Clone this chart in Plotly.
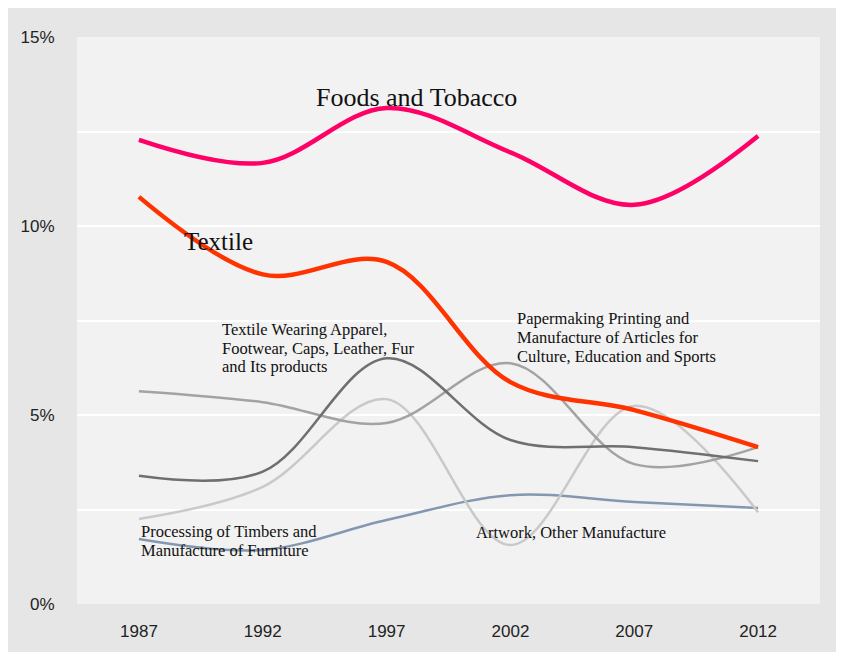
import plotly.graph_objects as go

years = ["1987", "1992", "1997", "2002", "2007", "2012"]

foods_tobacco = [12.28, 11.67, 13.12, 11.95, 10.56, 12.38]
textile = [10.77, 8.72, 9.05, 5.87, 5.13, 4.15]
wearing_apparel = [3.39, 3.50, 6.50, 4.34, 4.15, 3.78]
papermaking = [5.63, 5.34, 4.79, 6.37, 3.70, 4.15]
artwork = [2.25, 3.10, 5.42, 1.56, 5.24, 2.43]
timbers = [1.72, 1.43, 2.22, 2.88, 2.70, 2.54]

series = [
    ("Processing of Timbers and Manufacture of Furniture", timbers, "#8497b0", 2.5),
    ("Artwork, Other Manufacture", artwork, "#c9c9c9", 2.5),
    ("Papermaking Printing and Manufacture of Articles for Culture, Education and Sports", papermaking, "#a3a3a3", 2.5),
    ("Textile Wearing Apparel, Footwear, Caps, Leather, Fur and Its products", wearing_apparel, "#6f6f6f", 2.5),
    ("Textile", textile, "#ff3300", 4.5),
    ("Foods and Tobacco", foods_tobacco, "#ff0066", 4.5),
]

fig = go.Figure()
for name, vals, color, w in series:
    fig.add_trace(go.Scatter(
        x=years, y=[v / 100 for v in vals], mode="lines", name=name,
        line=dict(color=color, width=w, shape="spline", smoothing=1.0),
        hoverinfo="x+y+name",
    ))

serif = "Liberation Serif, Times New Roman, serif"
# (text, x in category units, y in fraction, font size)
labels = [
    ("Foods and Tobacco", 1.42, 0.1339, 26),
    ("Textile", 0.355, 0.0960, 25),
    ("Textile Wearing Apparel,", 0.661, 0.0727, 16.5),
    ("Footwear, Caps, Leather, Fur", 0.661, 0.0677, 16.5),
    ("and Its products", 0.661, 0.0627, 16.5),
    ("Papermaking Printing and", 3.048, 0.0754, 16.5),
    ("Manufacture of Articles for", 3.048, 0.0704, 16.5),
    ("Culture, Education and Sports", 3.048, 0.0654, 16.5),
    ("Processing of Timbers and", 0.008, 0.0192, 16.5),
    ("Manufacture of Furniture", 0.008, 0.0142, 16.5),
    ("Artwork, Other Manufacture", 2.71, 0.0190, 16.5),
]
annotations = [
    dict(text=t, x=x, y=y, xref="x", yref="y", xanchor="left", yanchor="middle",
         showarrow=False, borderpad=0, font=dict(family=serif, size=s, color="#111111"))
    for t, x, y, s in labels
]

tickfont = dict(family="Liberation Sans, Arial, sans-serif", size=17, color="#222222")

fig.update_layout(
    width=832, height=644,
    margin=dict(l=69, r=20, t=29, b=48),
    paper_bgcolor="#e6e6e6",
    plot_bgcolor="#f2f2f2",
    showlegend=False,
    annotations=annotations,
    xaxis=dict(
        type="category", range=[-0.5, 5.5], showgrid=False, zeroline=False,
        showline=False, ticks="outside", ticklen=12, tickcolor="rgba(0,0,0,0)",
        tickfont=tickfont,
    ),
    yaxis=dict(
        range=[0, 0.15], dtick=0.05, tickformat=".0%", showgrid=True,
        gridcolor="#ffffff", gridwidth=2, zeroline=False, showline=False,
        minor=dict(dtick=0.025, showgrid=True, gridcolor="#ffffff", gridwidth=2),
        ticks="outside", ticklen=18, tickcolor="rgba(0,0,0,0)",
        tickfont=tickfont,
    ),
)

fig.write_html("out.html")
